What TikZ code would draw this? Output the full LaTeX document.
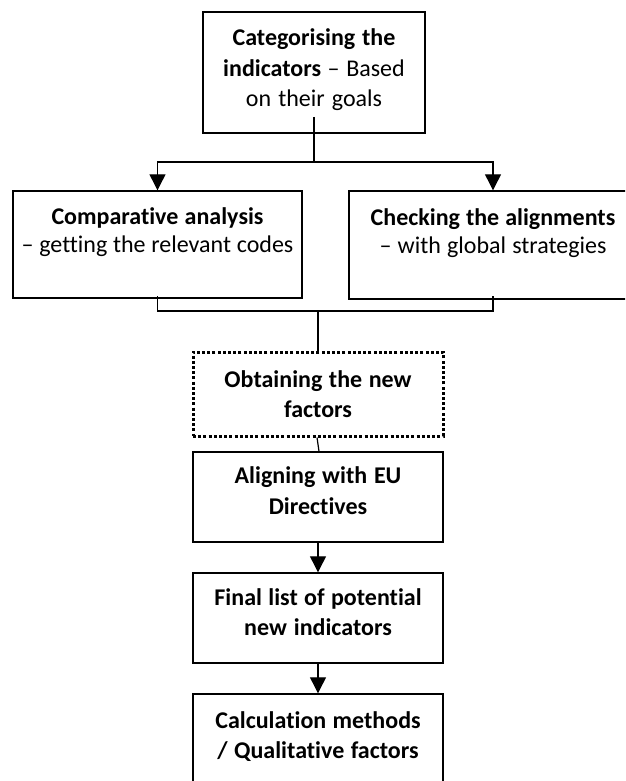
\documentclass[tikz,border=0pt]{standalone}
\usepackage{fontspec}
\setmainfont{Carlito}[Ligatures={NoCommon}]
\usetikzlibrary{arrows.meta}
\newcommand\tsp{\spaceskip=5.4pt plus 1pt minus 1pt\relax}
\begin{document}
\begin{tikzpicture}[x=1pt,y=-1pt,
  box/.style={draw, line width=1.4pt, inner sep=0pt},
  dotbox/.style={draw, line width=3pt, dash pattern=on 3pt off 2.2pt, inner sep=0pt},
  txt/.style={anchor=base, align=center, text width=300pt, inner sep=0pt, font=\fontsize{24}{30.5}\selectfont},
  txts/.style={anchor=base, align=center, text width=300pt, inner sep=0pt, font=\fontsize{24}{28}\selectfont},
  conn/.style={line width=1.2pt},
  arr/.style={line width=1.2pt, -{Triangle[width=16pt,length=16pt]}}]
\useasboundingbox (0,0) rectangle (625,781);
\clip (0,0) rectangle (625,781);
% boxes
\node[box, minimum width=222pt, minimum height=121pt] (top) at (314,72.5) {};
\node[box, minimum width=289pt, minimum height=107pt] (left) at (157.5,244.5) {};
\node[box, minimum width=288pt, minimum height=108pt] (right) at (493,245) {};
\node[dotbox, minimum width=250pt, minimum height=84pt] (obt) at (318,394) {};
\node[box, minimum width=250pt, minimum height=90pt] (align) at (318,497) {};
\node[box, minimum width=250pt, minimum height=90pt] (final) at (318,618) {};
\node[box, minimum width=250pt, minimum height=110pt] (calc) at (318,749) {};
% texts
\node[txt] (ttop) at (314,46) {\tsp\textbf{Categorising the}\\\textbf{indicators} -- Based\\on their goals};
\node[txts] (tleft) at (157.5,224) {\tsp\textbf{Comparative analysis}\\-- getting the relevant codes};
\node[txts] (tright) at (493,225) {\tsp\textbf{Checking the alignments}\\-- with global strategies};
\node[txt] (tobt) at (318,387) {\tsp\textbf{Obtaining the new}\\\textbf{factors}};
\node[txt, font=\fontsize{24}{31.5}\selectfont] (talign) at (318,483) {\tsp\textbf{Aligning with EU}\\\textbf{Directives}};
\node[txt] (tfinal) at (318,605) {\tsp\textbf{Final list of potential}\\\textbf{new indicators}};
\node[txt] (tcalc) at (318,728) {\tsp\textbf{Calculation methods}\\\textbf{/ Qualitative factors}};
% connectors
\coordinate (ts) at (314,117);
\coordinate (tj) at (314,162);
\draw[conn] (ts) -- (tj);
\draw[arr] (tj) -| (left.north);
\draw[arr] (tj) -| (right.north);
\coordinate (ls) at (157.5,296);
\coordinate (rs) at (493,296);
\coordinate (bj) at (318,311);
\draw[conn] (ls) |- (bj);
\draw[conn] (rs) |- (bj);
\draw[conn] (bj) -- (obt.north);
\draw[conn] ([xshift=-1pt]obt.south) -- ([xshift=1pt]align.north);
\draw[arr] (align.south) -- (final.north);
\draw[arr] (final.south) -- (calc.north);
\end{tikzpicture}
\end{document}
